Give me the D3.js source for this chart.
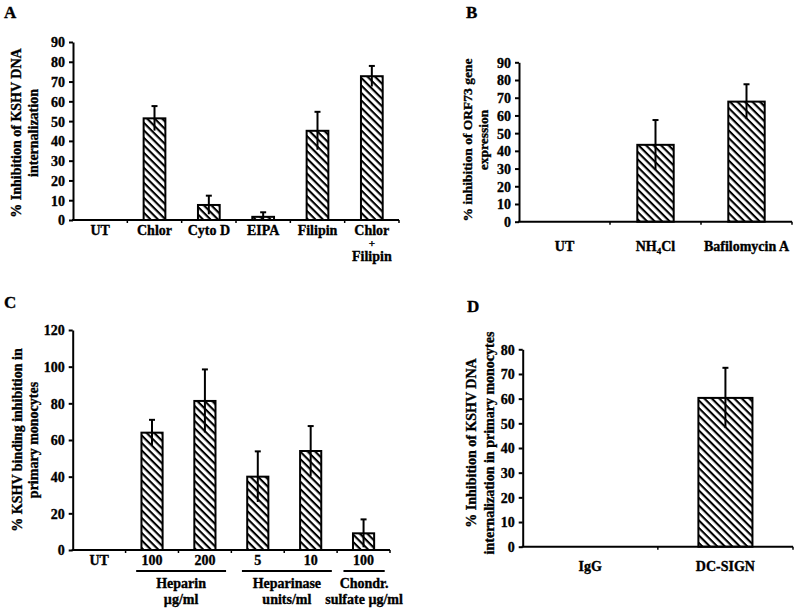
<!DOCTYPE html>
<html><head><meta charset="utf-8">
<script src="https://cdn.jsdelivr.net/npm/d3@7/dist/d3.min.js"></script>
<style>body{margin:0;background:#fff}svg text{font-family:"Liberation Serif","Times New Roman",serif;font-weight:bold;fill:#000;stroke:#000;stroke-width:0.35px}</style>
</head><body><svg id="c" width="800" height="612"></svg>
<script>
// Panel A
const catsA = ["UT","Chlor","Cyto D","EIPA","Filipin","Chlor|+|Filipin"];
const valsA = [0, 51.4, 7.6, 1.6, 45.1, 72.7];
const errA  = [0, 6.2, 4.7, 2.3, 9.6, 5.2];
const ticksA = [0,10,20,30,40,50,60,70,80,90];
// Panel B
const catsB = ["UT","NH4Cl","Bafilomycin A"];
const valsB = [0, 43.4, 67.8];
const errB  = [0, 14.0, 9.8];
const ticksB = [0,10,20,30,40,50,60,70,80,90];
// Panel C
const catsC = ["UT","100","200","5","10","100"];
const valsC = [0, 64, 81.3, 40, 54, 9.1];
const errC  = [0, 7, 17.2, 13.8, 13.6, 7.6];
const ticksC = [0,20,40,60,80,100,120];
const groupsC = [{from:1,to:2,lines:["Heparin","µg/ml"]},{from:3,to:4,lines:["Heparinase","units/ml"]},{from:5,to:5,lines:["Chondr.","sulfate µg/ml"]}];
// Panel D
const catsD = ["IgG","DC-SIGN"];
const valsD = [0, 60.3];
const errD  = [0, 12.2];
const ticksD = [0,10,20,30,40,50,60,70,80];

const svg = d3.select("#c");
const defs = svg.append("defs");
const pat = defs.append("pattern").attr("id","hatch").attr("patternUnits","userSpaceOnUse")
  .attr("width",5.3).attr("height",5.3).attr("patternTransform","rotate(45)");
pat.append("rect").attr("width",5.3).attr("height",5.3).attr("fill","#fff");
pat.append("rect").attr("y",0).attr("width",5.3).attr("height",2.1).attr("fill","#000");

const panels = [
 {label:"A", lx:4, ly:18, cats:catsA, vals:valsA, errs:errA, ticks:ticksA, max:90,
  x0:73, x1:399, yTop:42, y0:220, labOff:15, title:["% Inhibition of KSHV DNA","internalization"], tx:[21,38], ty:133, tsize:14},
 {label:"B", lx:466, ly:18, cats:catsB, vals:valsB, errs:errB, ticks:ticksB, max:90,
  x0:519, x1:792, yTop:62.3, y0:221.7, labOff:29, title:["% inhibition of ORF73 gene","expression"], tx:[472,488], ty:140, tsize:13.5},
 {label:"C", lx:4, ly:308, cats:catsC, vals:valsC, errs:errC, ticks:ticksC, max:120,
  x0:72.7, x1:390, yTop:330, y0:550, labOff:15, title:["% KSHV binding inhibition in","primary monocytes"], tx:[22,38], ty:440, tsize:14, groups:groupsC},
 {label:"D", lx:467, ly:312, cats:catsD, vals:valsD, errs:errD, ticks:ticksD, max:80,
  x0:522.7, x1:793, yTop:349.3, y0:546.7, labOff:24, title:["% Inhibition of KSHV DNA","internalization in primary monocytes"], tx:[476,494], ty:443, tsize:14}
];

panels.forEach(p => {
  const g = svg.append("g");
  g.append("text").attr("x",p.lx).attr("y",p.ly).attr("font-size",17).text(p.label);
  const x = d3.scaleBand().domain(d3.range(p.cats.length)).range([p.x0,p.x1]).paddingInner(0.6).paddingOuter(0.3);
  const xb = d3.scaleBand().domain(d3.range(p.cats.length)).range([p.x0,p.x1]);
  const y = d3.scaleLinear().domain([0,p.max]).range([p.y0,p.yTop]);
  // bars
  p.vals.forEach((v,i) => {
    if (v <= 0) return;
    g.append("rect").attr("x",x(i)).attr("y",y(v)).attr("width",x.bandwidth()).attr("height",y(0)-y(v))
      .attr("fill","url(#hatch)").attr("stroke","#000").attr("stroke-width",2);
  });
  // error bars
  p.vals.forEach((v,i) => {
    const e = p.errs[i]; if (!e) return;
    const cx = x(i)+x.bandwidth()/2;
    g.append("line").attr("x1",cx).attr("x2",cx).attr("y1",y(Math.max(0,v-e))).attr("y2",y(v+e)).attr("stroke","#000").attr("stroke-width",2);
    g.append("line").attr("x1",cx-3).attr("x2",cx+3).attr("y1",y(v+e)).attr("y2",y(v+e)).attr("stroke","#000").attr("stroke-width",2);
  });
  // y axis
  const ya = g.append("g").attr("transform",`translate(${p.x0},0)`)
    .call(d3.axisLeft(y).tickValues(p.ticks).tickSize(4).tickPadding(4).tickSizeOuter(0));
  ya.select(".domain").attr("stroke-width",2);
  ya.selectAll(".tick line").attr("stroke-width",2);
  ya.selectAll(".tick text").attr("font-size",14).attr("font-family","Liberation Serif").attr("font-weight","bold").attr("dy","0.35em");
  // x axis
  g.append("line").attr("x1",p.x0-1).attr("x2",p.x1).attr("y1",p.y0).attr("y2",p.y0).attr("stroke","#000").attr("stroke-width",2);
  d3.range(1,p.cats.length+1).forEach(i => {
    const tx = i < p.cats.length ? xb(i) : p.x1;
    g.append("line").attr("x1",tx).attr("x2",tx).attr("y1",p.y0).attr("y2",p.y0+3).attr("stroke","#000").attr("stroke-width",1.5);
  });
  // category labels
  p.cats.forEach((c,i) => {
    const cx = xb(i)+xb.bandwidth()/2;
    const t = g.append("text").attr("text-anchor","middle").attr("font-size",14).attr("x",cx).attr("y",p.y0+p.labOff);
    if (c === "NH4Cl") {
      t.append("tspan").text("NH");
      t.append("tspan").attr("font-size",9).attr("dy",3).text("4");
      t.append("tspan").attr("dy",-3).text("Cl");
    } else {
      const parts = c.split("|");
      parts.forEach((s,k) => t.append("tspan").attr("x",cx).attr("dy",k===0?0:(k===1?12:14)).attr("font-size",k===1?11:14).text(s));
    }
  });
  // groups
  (p.groups||[]).forEach(gr => {
    const a = xb(gr.from)+xb.bandwidth()*0.2, b = xb(gr.to)+xb.bandwidth()*0.9;
    const l = gr.from===gr.to ? xb(gr.from)+xb.bandwidth()*0.12 : a;
    g.append("line").attr("x1",l).attr("x2",b).attr("y1",p.y0+21).attr("y2",p.y0+21).attr("stroke","#000").attr("stroke-width",1.8);
    const cx = (l+b)/2;
    gr.lines.forEach((s,k) => g.append("text").attr("text-anchor","middle").attr("font-size",14)
      .attr("x",cx).attr("y",p.y0+38+k*16).text(s));
  });
  // y title
  p.title.forEach((s,k) => g.append("text").attr("text-anchor","middle").attr("font-size",p.tsize)
    .attr("transform",`translate(${p.tx[k]},${p.ty}) rotate(-90)`).text(s));
});
</script></body></html>
